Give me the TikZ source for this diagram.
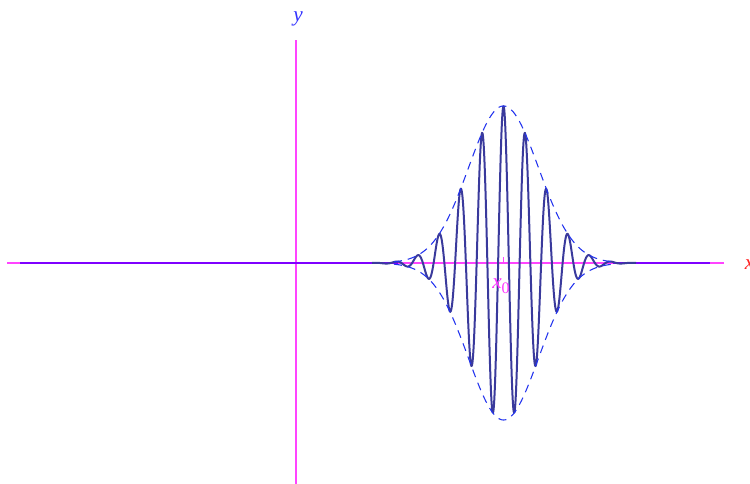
\documentclass[tikz,border=0pt]{standalone}
\usepackage{fontspec}
\setmainfont{Liberation Serif}
\usepackage{tikz}
\definecolor{axmag}{HTML}{FF44FF}
\definecolor{purp}{HTML}{7F00FF}
\definecolor{navy}{HTML}{3A3A9C}
\definecolor{envb}{HTML}{2233EE}
\definecolor{lblue}{HTML}{3333FF}
\definecolor{lred}{HTML}{FF2020}
\definecolor{lmag}{HTML}{FF33FF}
\begin{document}
\begin{tikzpicture}[x=0.75pt,y=-0.75pt,
  axisline/.style={draw=axmag,line width=1.1pt},
  flatline/.style={draw=purp,line width=1.8pt},
  wave/.style={draw=navy,line width=1.5pt,line join=round},
  envelope/.style={draw=envb,line width=0.8pt,dash pattern=on 6pt off 4.5pt},
  lbl/.style={font=\fontsize{16}{18}\selectfont\itshape,inner sep=0pt}]
\useasboundingbox (0,0) rectangle (750,484);
% axes
\coordinate (xl) at (7,263);
\coordinate (xr) at (724,263);
\coordinate (yb) at (296,484);
\coordinate (yt) at (296,40);
\draw[axisline] (xl) -- (xr);
\draw[axisline] (yb) -- (yt);
% flat parts of the function
\coordinate (fl1) at (20,263);
\coordinate (fl2) at (398,263);
\coordinate (fr1) at (613,263);
\coordinate (fr2) at (710,263);
\draw[flatline] (fl1) -- (fl2);
\draw[flatline] (fr1) -- (fr2);
% tick at x0
\coordinate (t0) at (503.5,263);
\coordinate (t1) at (503.5,257);
\draw[axisline,line width=0.8pt] (t0) -- (t1);
% wave packet
\draw[wave] plot[domain=372:636,samples=500,smooth] (\x,{263-157*exp(-0.5*((\x-503.5)/35)^2)*cos(360*((\x-503.5)/21.5))});
% envelope
\draw[envelope] plot[domain=394:614,samples=150,smooth] (\x,{263-157*exp(-0.5*((\x-503.5)/35)^2)});
\draw[envelope] plot[domain=394:614,samples=150,smooth] (\x,{263+157*exp(-0.5*((\x-503.5)/35)^2)});
% labels
\node[lbl,text=lblue,anchor=base] (ylab) at (298,22) {y};
\node[lbl,text=lred,anchor=base west] (xlab) at (744.5,270) {x};
\node[lbl,text=lmag,anchor=base west] (x0lab) at (492,289) {x\raisebox{-3.5pt}{\upshape\fontsize{12}{14}\selectfont 0}};
\end{tikzpicture}
\end{document}
